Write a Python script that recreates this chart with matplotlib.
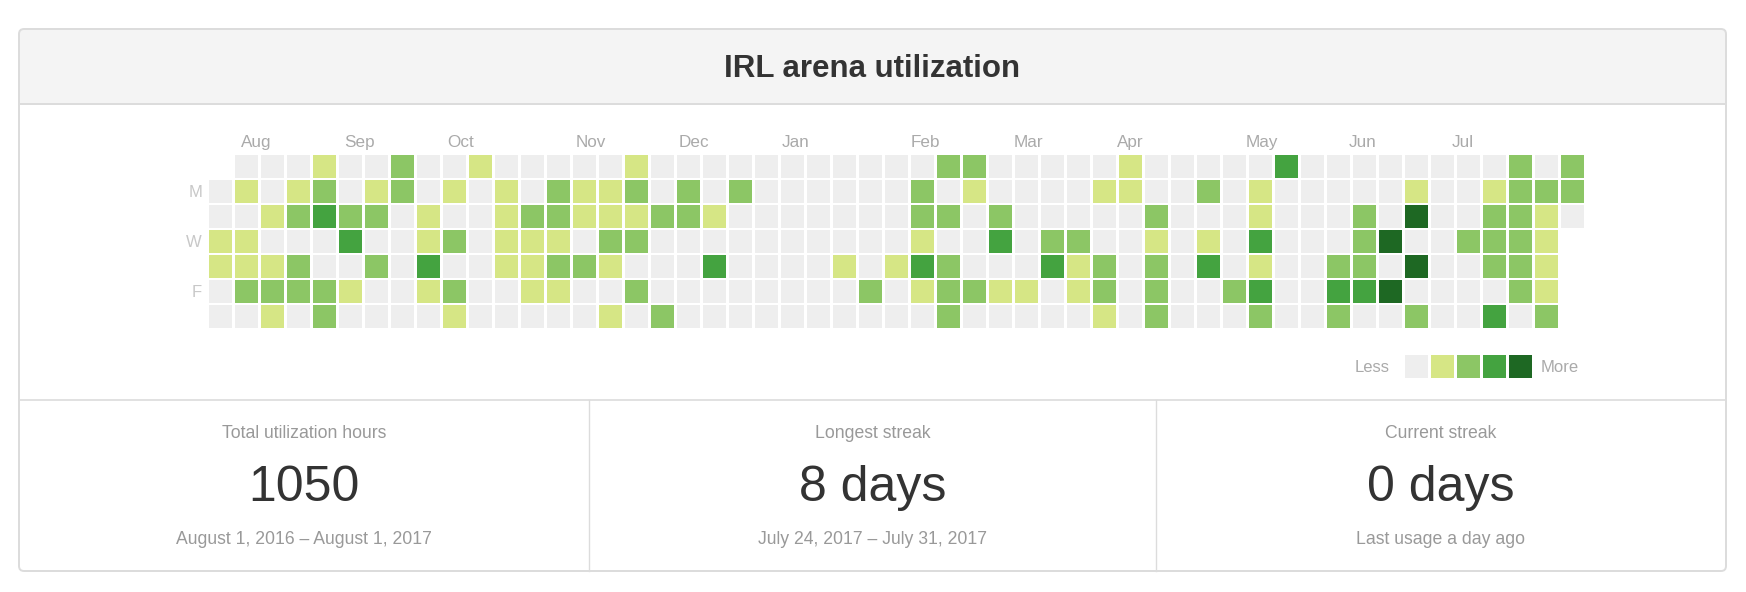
import datetime as dt
import matplotlib
matplotlib.use("Agg")
import matplotlib.pyplot as plt
from matplotlib.patches import Rectangle, FancyBboxPatch

plt.rcParams['font.family'] = ['Liberation Sans', 'DejaVu Sans']

# activity level per day, one list per weekday row (Sun..Sat), 53 weeks; -1 = no day
sun = [-1, 0, 0, 0, 1, 0, 0, 2, 0, 0, 1, 0, 0, 0, 0, 0, 1, 0, 0, 0, 0, 0, 0, 0, 0, 0, 0,
       0, 2, 2, 0, 0, 0, 0, 0, 1, 0, 0, 0, 0, 0, 3, 0, 0, 0, 0, 0, 0, 0, 0, 2, 0, 2]
mon = [0, 1, 0, 1, 2, 0, 1, 2, 0, 1, 0, 1, 0, 2, 1, 1, 2, 0, 2, 0, 2, 0, 0, 0, 0, 0, 0,
       2, 0, 1, 0, 0, 0, 0, 1, 1, 0, 0, 2, 0, 1, 0, 0, 0, 0, 0, 1, 0, 0, 1, 2, 2, 2]
tue = [0, 0, 1, 2, 3, 2, 2, 0, 1, 0, 0, 1, 2, 2, 1, 1, 1, 2, 2, 1, 0, 0, 0, 0, 0, 0, 0,
       2, 2, 0, 2, 0, 0, 0, 0, 0, 2, 0, 0, 0, 1, 0, 0, 0, 2, 0, 4, 0, 0, 2, 2, 1, 0]
wed = [1, 1, 0, 0, 0, 3, 0, 0, 1, 2, 0, 1, 1, 1, 0, 2, 2, 0, 0, 0, 0, 0, 0, 0, 0, 0, 0,
       1, 0, 0, 3, 0, 2, 2, 0, 0, 1, 0, 1, 0, 3, 0, 0, 0, 2, 4, 0, 0, 2, 2, 2, 1, -1]
thu = [1, 1, 1, 2, 0, 0, 2, 0, 3, 0, 0, 1, 1, 2, 2, 1, 0, 0, 0, 3, 0, 0, 0, 0, 1, 0, 1,
       3, 2, 0, 0, 0, 3, 1, 2, 0, 2, 0, 3, 0, 1, 0, 0, 2, 2, 0, 4, 0, 0, 2, 2, 1, -1]
fri = [0, 2, 2, 2, 2, 1, 0, 0, 1, 2, 0, 0, 1, 1, 0, 0, 2, 0, 0, 0, 0, 0, 0, 0, 0, 2, 0,
       1, 2, 2, 1, 1, 0, 1, 2, 0, 2, 0, 0, 2, 3, 0, 0, 3, 3, 4, 0, 0, 0, 0, 2, 1, -1]
sat = [0, 0, 1, 0, 2, 0, 0, 0, 0, 1, 0, 0, 0, 0, 0, 1, 0, 2, 0, 0, 0, 0, 0, 0, 0, 0, 0,
       0, 2, 0, 0, 0, 0, 0, 1, 0, 2, 0, 0, 0, 2, 0, 0, 2, 0, 0, 2, 0, 0, 3, 0, 2, -1]
weeks = [sun, mon, tue, wed, thu, fri, sat]

first_sunday = dt.date(2016, 7, 31)
month_labels = ['Aug', 'Sep', 'Oct', 'Nov', 'Dec', 'Jan', 'Feb', 'Mar', 'Apr', 'May', 'Jun', 'Jul']
day_labels = ['', 'M', '', 'W', '', 'F', '']
palette = ['#eeeeee', '#d6e685', '#8cc665', '#44a340', '#1e6823']

title = 'IRL arena utilization'
stat_titles = ['Total utilization hours', 'Longest streak', 'Current streak']
stat_values = ['1050', '8 days', '0 days']
stat_notes = ['August 1, 2016 \u2013 August 1, 2017', 'July 24, 2017 \u2013 July 31, 2017',
              'Last usage a day ago']

W, H = 1746, 592
fig = plt.figure(figsize=(W / 100, H / 100), dpi=100)
bg = fig.add_axes([0, 0, 1, 1])
bg.set_xlim(0, W)
bg.set_ylim(H, 0)
bg.axis('off')

# panel frame
px0, px1, py0, py1 = 19, 1726, 29, 571
head_y, stats_y = 104, 400
bg.add_patch(FancyBboxPatch((px0, py0), px1 - px0, py1 - py0, boxstyle='round,pad=0,rounding_size=5',
                            fc='white', ec='none', zorder=0))
bg.add_patch(FancyBboxPatch((px0, py0), px1 - px0, head_y - py0, boxstyle='round,pad=0,rounding_size=5',
                            fc='#f4f4f4', ec='none', zorder=1))
bg.add_patch(Rectangle((px0, head_y - 10), px1 - px0, 10, fc='#f4f4f4', ec='none', zorder=1))
bg.add_patch(FancyBboxPatch((px0, py0), px1 - px0, py1 - py0, boxstyle='round,pad=0,rounding_size=5',
                            fc='none', ec='#dcdcdc', lw=1.4, zorder=3))
bg.plot([px0, px1], [head_y, head_y], color='#dcdcdc', lw=1.4, zorder=3)
bg.plot([px0, px1], [stats_y, stats_y], color='#dcdcdc', lw=1.2, zorder=3)
dividers = [px0, 589, 1156, px1]
for x in dividers[1:-1]:
    bg.plot([x, x], [stats_y, py1], color='#dcdcdc', lw=1.0, zorder=3)

bg.text((px0 + px1) / 2, 77, title, ha='center', va='baseline', fontsize=22.5,
        fontweight='bold', color='#333333', zorder=4)

for i in range(3):
    cx = (dividers[i] + dividers[i + 1]) / 2
    bg.text(cx, 438, stat_titles[i], ha='center', va='baseline', fontsize=12.7, color='#999999')
    bg.text(cx, 501, stat_values[i], ha='center', va='baseline', fontsize=36, color='#333333')
    bg.text(cx, 544, stat_notes[i], ha='center', va='baseline', fontsize=12.7, color='#999999')

# calendar grid
cw, ch = 23 / 26, 22.7 / 25
gx0, gx1, gy0, gy1 = 209, 1584, 155, 327.7
ax = fig.add_axes([gx0 / W, 1 - gy1 / H, (gx1 - gx0) / W, (gy1 - gy0) / H])
ax.set_xlim(-cw / 2, len(sun) - 1 + cw / 2)
ax.set_ylim(6 + ch / 2, -ch / 2)
ax.axis('off')

for r, row in enumerate(weeks):
    for c, lvl in enumerate(row):
        if lvl < 0:
            continue
        ax.add_patch(Rectangle((c - cw / 2, r - ch / 2), cw, ch, fc=palette[lvl], ec='none'))

# month labels at the first Sunday of each month (label row runs on a slightly tighter pitch)
m = 0
for c in range(len(sun)):
    d = first_sunday + dt.timedelta(days=7 * c)
    if d.day <= 7 and m < len(month_labels):
        lx = c * 0.991 - cw / 2 + 0.24
        ax.text(lx, -0.77, month_labels[m], ha='left', va='baseline',
                fontsize=12.3, color='#aaaaaa', clip_on=False)
        m += 1

for r, lab in enumerate(day_labels):
    if lab:
        ax.text(-0.71, r + 0.226, lab, ha='right', va='baseline', fontsize=12,
                color='#c8c8c8', clip_on=False)

# legend
lc0 = 46
for i, col in enumerate(palette):
    ax.add_patch(Rectangle((lc0 + i - cw / 2, 8 - ch / 2), cw, ch, fc=col, ec='none', clip_on=False))
ax.text(lc0 - cw / 2 - 0.6, 8.22, 'Less', ha='right', va='baseline', fontsize=12, color='#aaaaaa',
        clip_on=False)
ax.text(lc0 + len(palette) - cw / 2 + 0.2, 8.22, 'More', ha='left', va='baseline', fontsize=12,
        color='#aaaaaa', clip_on=False)

fig.savefig('out.png', dpi=100)
